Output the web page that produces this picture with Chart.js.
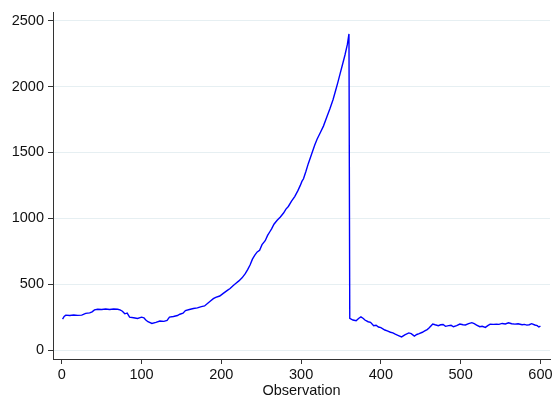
<!DOCTYPE html>
<html>
<head>
<meta charset="utf-8">
<script src="https://cdn.jsdelivr.net/npm/chart.js@4/dist/chart.umd.min.js"></script>
<style>
  html, body { margin: 0; padding: 0; background: #ffffff; }
  canvas { display: block; }
</style>
</head>
<body>
<canvas id="c" width="556" height="400"></canvas>
<script>
// Observation numbers (x) and series values (y)
const observations = [
  1, 3, 5, 10, 15, 20, 25, 30, 35, 38, 41, 45, 50, 55, 60, 65, 70, 73, 76, 79,
  82, 85, 90, 95, 100, 103, 105, 108, 113, 118, 123, 128, 132, 135, 140, 145, 148, 152, 155, 160,
  165, 170, 175, 179, 183, 186, 190, 193, 198, 202, 205, 208, 211, 215, 218, 222, 226, 230, 233, 236,
  239, 242, 245, 248, 251, 255, 258, 261, 263, 266, 270, 274, 278, 281, 284, 288, 292, 296, 299, 301,
  303, 306, 309, 313, 317, 320, 324, 328, 332, 336, 340, 343, 346, 349, 352, 355, 358, 360, 361, 365,
  369, 372, 375, 378, 380, 384, 387, 391, 394, 397, 400, 405, 408, 412, 415, 418, 422, 426, 430, 435,
  438, 442, 445, 448, 452, 455, 458, 460, 463, 465, 468, 472, 475, 478, 481, 485, 488, 491, 495, 499,
  503, 506, 510, 514, 517, 520, 524, 527, 531, 534, 537, 541, 545, 548, 552, 556, 560, 564, 568, 572,
  577, 580, 583, 586, 589, 593, 596, 598, 600
];
const values = [
  235, 255, 265, 262, 266, 263, 265, 278, 282, 290, 305, 310, 308, 312, 308, 312, 310, 305, 295, 275,
  280, 250, 245, 240, 250, 245, 230, 215, 202, 210, 220, 218, 225, 250, 255, 262, 272, 280, 300, 308,
  315, 320, 330, 335, 355, 370, 390, 400, 410, 428, 442, 455, 467, 490, 505, 525, 548, 580, 610, 645,
  690, 720, 745, 758, 800, 830, 870, 900, 920, 955, 985, 1010, 1040, 1070, 1090, 1130, 1165, 1210, 1250, 1280,
  1300, 1355, 1415, 1485, 1555, 1600, 1650, 1700, 1765, 1830, 1900, 1965, 2030, 2100, 2170, 2240, 2320, 2400, 240, 228,
  222, 240, 252, 240, 228, 215, 210, 185, 188, 175, 170, 152, 145, 135, 130, 120, 110, 100, 115, 130,
  125, 106, 118, 125, 135, 145, 155, 165, 185, 198, 192, 185, 192, 194, 180, 185, 188, 177, 185, 197,
  192, 190, 200, 208, 200, 190, 177, 180, 172, 185, 197, 195, 197, 195, 202, 198, 207, 200, 197, 200,
  192, 195, 189, 192, 200, 190, 185, 175, 182
];
const xTickValues = [0, 100, 200, 300, 400, 500, 600];
const yTickValues = [0, 500, 1000, 1500, 2000, 2500];
const xTitle = 'Observation';

const points = observations.map((x, i) => ({ x: x, y: values[i] }));
const FONT = 'Liberation Sans, Arial, Helvetica, sans-serif';
const plain = (v) => String(v);

new Chart(document.getElementById('c'), {
  type: 'line',
  data: {
    datasets: [{
      data: points,
      borderColor: '#0000ff',
      borderWidth: 1.4,
      pointRadius: 0,
      tension: 0,
      fill: false
    }]
  },
  options: {
    responsive: false,
    animation: false,
    devicePixelRatio: 1,
    layout: { padding: { top: 12, right: 6, left: 0, bottom: 0 } },
    plugins: { legend: { display: false }, tooltip: { enabled: false } },
    scales: {
      x: {
        type: 'linear',
        min: -11,
        max: 612,
        afterBuildTicks: (axis) => { axis.ticks = xTickValues.map(v => ({ value: v })); },
        afterFit: (axis) => { axis.height = 41; },
        grid: { display: true, drawOnChartArea: false, tickLength: 5, tickColor: '#333333', lineWidth: 1 },
        border: { display: true, color: '#333333', width: 1 },
        ticks: { color: '#111111', font: { family: FONT, size: 14.5 }, padding: 2, maxRotation: 0, autoSkip: false, callback: plain },
        title: { display: true, text: xTitle, color: '#111111', font: { family: FONT, size: 14.5 }, padding: { top: 0, bottom: 0 } }
      },
      y: {
        type: 'linear',
        min: -68,
        max: 2561,
        afterBuildTicks: (axis) => { axis.ticks = yTickValues.map(v => ({ value: v })); },
        afterFit: (axis) => { axis.width = 53; },
        grid: { display: true, drawOnChartArea: true, color: '#e6eff2', tickColor: '#333333', tickLength: 5, lineWidth: 1 },
        border: { display: true, color: '#333333', width: 1 },
        ticks: { color: '#111111', font: { family: FONT, size: 14.5 }, padding: 4, autoSkip: false, callback: plain }
      }
    }
  }
});
</script>
</body>
</html>
